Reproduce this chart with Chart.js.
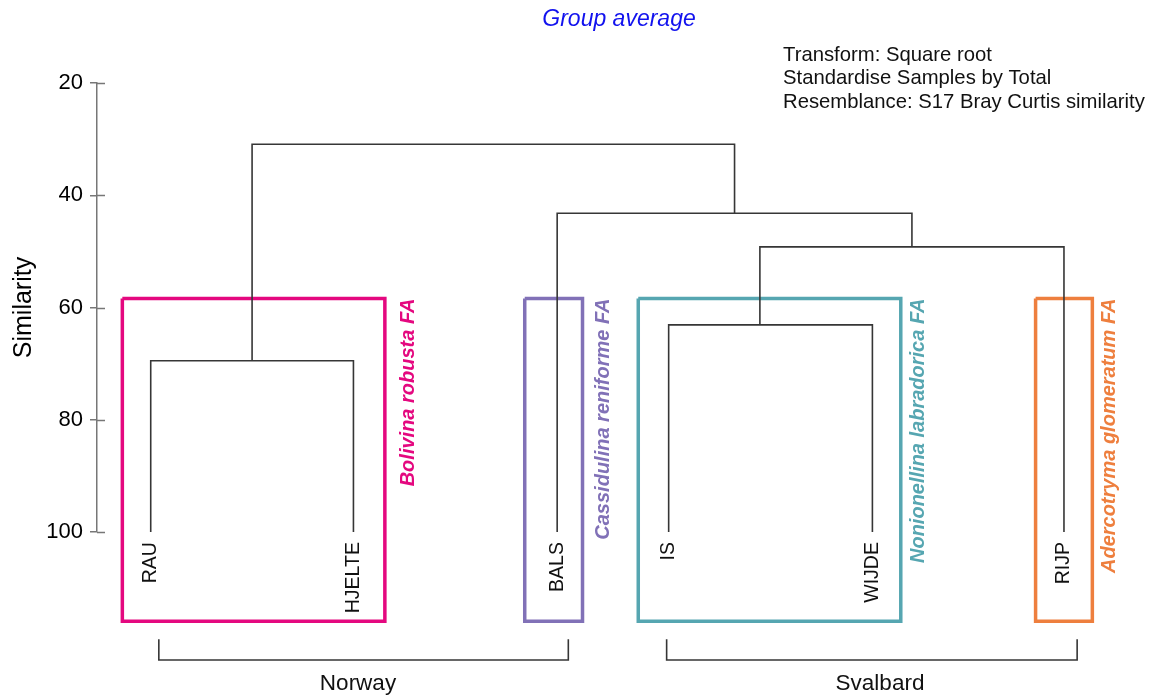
<!DOCTYPE html>
<html>
<head>
<meta charset="utf-8">
<title>Group average dendrogram</title>
<script src="https://cdn.jsdelivr.net/npm/chart.js@4/dist/chart.umd.min.js"></script>
<style>
  html, body { margin: 0; padding: 0; background: #ffffff; }
  #wrap { width: 1151px; height: 695px; position: relative; }
</style>
</head>
<body>
<div id="wrap"><canvas id="c"></canvas></div>
<script>
// ---- data ----
const leafNames = ['RAU', 'HJELTE', 'BALS', 'IS', 'WIJDE', 'RIJP'];
const leafPos = [0.53, 2.53, 4.54, 5.64, 7.65, 9.54];
const leafSimilarity = 100;

// merge steps: node ids 0-5 are leaves, merge i creates node 6+i
const mergeLeft = [0, 3, 7, 2, 6];
const mergeRight = [1, 4, 5, 8, 9];
const mergeSimilarity = [69.5, 63.1, 49.2, 43.2, 30.9];
const mergePos = [1.53, 6.54, 8.04, 6.29, 3.91];

const groupNames = ['Bolivina robusta FA', 'Cassidulina reniforme FA', 'Nonionellina labradorica FA', 'Adercotryma glomeratum FA'];
const groupLeft = [0.25, 4.22, 5.34, 9.26];
const groupRight = [2.84, 4.79, 7.93, 9.82];
const groupLabelPos = [3.07, 5.00, 8.10, 9.99];
const groupColors = ['#E4087F', '#8171B7', '#56A6B1', '#EE7F3E'];
const groupTop = 58.4;
const groupBottom = 115.9;

const regionNames = ['Norway', 'Svalbard'];
const regionStart = [0.61, 5.62];
const regionEnd = [4.65, 9.67];
const regionLabelPos = [2.575, 7.725];
const bracketTop = 119.1;
const bracketBottom = 122.8;
const regionLabelLevel = 128.1;

const yTicks = [20, 40, 60, 80, 100];
const leafLabelLevel = 101.8;

const notes = ['Transform: Square root', 'Standardise Samples by Total', 'Resemblance: S17 Bray Curtis similarity'];

// ---- build datasets ----
const FONT = '"Liberation Sans", Arial, Helvetica, sans-serif';
const LINK = '#363636';

const nodeX = leafPos.slice();
const nodeY = leafNames.map(() => leafSimilarity);
mergeLeft.forEach((a, i) => {
  nodeX.push(mergePos[i]);
  nodeY.push(mergeSimilarity[i]);
});

const datasets = [];

// dendrogram links (drawn above the boxes)
mergeLeft.forEach((a, i) => {
  const b = mergeRight[i];
  const h = mergeSimilarity[i];
  datasets.push({
    data: [
      { x: nodeX[a], y: nodeY[a] },
      { x: nodeX[a], y: h },
      { x: nodeX[b], y: h },
      { x: nodeX[b], y: nodeY[b] }
    ],
    showLine: true, borderColor: LINK, borderWidth: 1.6, pointRadius: 0,
    fill: false, clip: false, order: 1, borderJoinStyle: 'miter'
  });
});

// assemblage boxes
groupNames.forEach((g, i) => {
  datasets.push({
    data: [
      { x: groupLeft[i], y: groupTop },
      { x: groupRight[i], y: groupTop },
      { x: groupRight[i], y: groupBottom },
      { x: groupLeft[i], y: groupBottom },
      { x: groupLeft[i], y: groupTop }
    ],
    showLine: true, borderColor: groupColors[i], borderWidth: 3.5, pointRadius: 0,
    fill: false, clip: false, order: 2, borderJoinStyle: 'miter'
  });
});

// region brackets
regionNames.forEach((r, i) => {
  datasets.push({
    data: [
      { x: regionStart[i], y: bracketTop },
      { x: regionStart[i], y: bracketBottom },
      { x: regionEnd[i], y: bracketBottom },
      { x: regionEnd[i], y: bracketTop }
    ],
    showLine: true, borderColor: LINK, borderWidth: 1.6, pointRadius: 0,
    fill: false, clip: false, order: 1, borderJoinStyle: 'miter'
  });
});

// ---- plugins ----
function rotatedText(ctx, text, x, y, font, color) {
  ctx.save();
  ctx.translate(x, y);
  ctx.rotate(-Math.PI / 2);
  ctx.font = font;
  ctx.fillStyle = color;
  ctx.textAlign = 'right';
  ctx.textBaseline = 'middle';
  ctx.fillText(text, 0, 0);
  ctx.restore();
}

// tick marks cross the axis line: draw the inner halves
const innerTicks = {
  id: 'innerTicks',
  afterDraw(chart) {
    const s = chart.scales.y;
    const ctx = chart.ctx;
    ctx.save();
    ctx.strokeStyle = '#777';
    ctx.lineWidth = 1.5;
    s.ticks.forEach(t => {
      const py = Math.round(s.getPixelForValue(t.value)) + 0.5;
      ctx.beginPath();
      ctx.moveTo(s.right, py);
      ctx.lineTo(s.right + 8, py);
      ctx.stroke();
    });
    ctx.restore();
  }
};

const labels = {
  id: 'labels',
  afterDatasetsDraw(chart) {
    const { ctx, scales: { x, y } } = chart;
    // sample names
    leafNames.forEach((n, i) => {
      rotatedText(ctx, n, x.getPixelForValue(leafPos[i]), y.getPixelForValue(leafLabelLevel),
        '19.5px ' + FONT, '#111');
    });
    // assemblage names
    groupNames.forEach((g, i) => {
      rotatedText(ctx, g, x.getPixelForValue(groupLabelPos[i]), y.getPixelForValue(groupTop),
        'italic bold 20px ' + FONT, groupColors[i]);
    });
    // regions
    ctx.save();
    ctx.font = '22.5px ' + FONT;
    ctx.fillStyle = '#111';
    ctx.textAlign = 'center';
    ctx.textBaseline = 'alphabetic';
    regionNames.forEach((r, i) => {
      ctx.fillText(r, x.getPixelForValue(regionLabelPos[i]), y.getPixelForValue(regionLabelLevel));
    });
    // analysis notes
    ctx.font = '20.3px ' + FONT;
    ctx.textAlign = 'left';
    notes.forEach((t, i) => {
      ctx.fillText(t, 783, 60.5 + i * 23.7);
    });
    ctx.restore();
  }
};

new Chart(document.getElementById('c'), {
  type: 'scatter',
  data: { datasets },
  options: {
    responsive: true,
    maintainAspectRatio: false,
    animation: false,
    layout: { padding: { top: 0, left: 0, right: 10, bottom: 163 } },
    plugins: {
      legend: { display: false },
      tooltip: { enabled: false },
      title: {
        display: true,
        text: 'Group average',
        color: '#1212EE',
        fullSize: false,
        font: { family: FONT, size: 23, style: 'italic', weight: 'normal' },
        padding: { top: 6, bottom: 49.4 }
      }
    },
    scales: {
      x: { type: 'linear', display: false, min: 0, max: 10.3 },
      y: {
        type: 'linear',
        reverse: true,
        min: yTicks[0],
        max: yTicks[yTicks.length - 1],
        afterFit(s) { s.width = 97; },
        afterBuildTicks(s) { s.ticks = yTicks.map(v => ({ value: v })); },
        ticks: { color: '#000', padding: 7, font: { family: FONT, size: 22 } },
        grid: { drawOnChartArea: false, drawTicks: true, tickLength: 7, color: '#777', lineWidth: 1.5 },
        border: { display: true, color: '#777', width: 1.5 },
        title: {
          display: true, text: 'Similarity', color: '#000',
          font: { family: FONT, size: 25 }, padding: { top: 9, bottom: 0 }
        }
      }
    }
  },
  plugins: [innerTicks, labels]
});
</script>
</body>
</html>
